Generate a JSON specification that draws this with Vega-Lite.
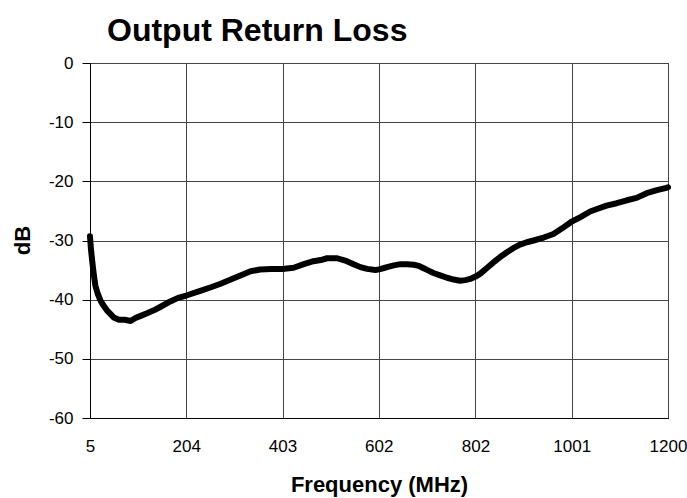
{
  "$schema": "https://vega.github.io/schema/vega-lite/v6.json",
  "autosize": {"type": "none"},
  "width": 578,
  "height": 355,
  "padding": {"left": 90, "top": 63, "right": 19, "bottom": 80},
  "background": "white",
  "config": {
    "font": "Liberation Sans",
    "view": {"stroke": "black", "strokeWidth": 1}
  },
  "title": {
    "text": "Output Return Loss",
    "fontSize": 32,
    "fontWeight": "bold",
    "color": "black",
    "anchor": "start",
    "frame": "group",
    "dx": 17,
    "dy": 40,
    "baseline": "alphabetic",
    "offset": 21
  },
  "data": {
    "values": [
      {"f": 5, "db": -29.3},
      {"f": 7, "db": -31.5},
      {"f": 9.5, "db": -33.4},
      {"f": 12, "db": -35.2},
      {"f": 16, "db": -37.6},
      {"f": 21, "db": -39.0},
      {"f": 27, "db": -40.2},
      {"f": 33, "db": -41.0},
      {"f": 40, "db": -41.8},
      {"f": 47, "db": -42.4},
      {"f": 54, "db": -43.0},
      {"f": 65, "db": -43.4},
      {"f": 77, "db": -43.4},
      {"f": 89, "db": -43.6},
      {"f": 99, "db": -43.1},
      {"f": 111, "db": -42.7},
      {"f": 123, "db": -42.3},
      {"f": 137, "db": -41.8},
      {"f": 151, "db": -41.2},
      {"f": 171, "db": -40.3},
      {"f": 187, "db": -39.7},
      {"f": 204, "db": -39.3},
      {"f": 233, "db": -38.5},
      {"f": 255, "db": -37.9},
      {"f": 275, "db": -37.3},
      {"f": 296, "db": -36.6},
      {"f": 316, "db": -35.9},
      {"f": 337, "db": -35.2},
      {"f": 357, "db": -34.9},
      {"f": 380, "db": -34.8},
      {"f": 403, "db": -34.8},
      {"f": 426, "db": -34.6},
      {"f": 447, "db": -34.0},
      {"f": 467, "db": -33.5},
      {"f": 482, "db": -33.3},
      {"f": 495, "db": -33.0},
      {"f": 516, "db": -33.0},
      {"f": 536, "db": -33.5},
      {"f": 550, "db": -34.0},
      {"f": 564, "db": -34.5},
      {"f": 578, "db": -34.8},
      {"f": 595, "db": -35.0},
      {"f": 607, "db": -34.8},
      {"f": 619, "db": -34.5},
      {"f": 633, "db": -34.2},
      {"f": 647, "db": -34.0},
      {"f": 661, "db": -34.0},
      {"f": 674, "db": -34.1},
      {"f": 685, "db": -34.3},
      {"f": 695, "db": -34.7},
      {"f": 705, "db": -35.1},
      {"f": 715, "db": -35.5},
      {"f": 729, "db": -35.9},
      {"f": 743, "db": -36.3},
      {"f": 757, "db": -36.6},
      {"f": 770, "db": -36.8},
      {"f": 781, "db": -36.7},
      {"f": 791, "db": -36.5},
      {"f": 802, "db": -36.1},
      {"f": 812, "db": -35.6},
      {"f": 825, "db": -34.7},
      {"f": 839, "db": -33.7},
      {"f": 853, "db": -32.8},
      {"f": 867, "db": -32.0},
      {"f": 880, "db": -31.3},
      {"f": 894, "db": -30.7},
      {"f": 908, "db": -30.3},
      {"f": 922, "db": -30.0},
      {"f": 943, "db": -29.5},
      {"f": 963, "db": -28.9},
      {"f": 982, "db": -27.9},
      {"f": 1001, "db": -26.8},
      {"f": 1020, "db": -26.0},
      {"f": 1039, "db": -25.1},
      {"f": 1056, "db": -24.6},
      {"f": 1073, "db": -24.1},
      {"f": 1094, "db": -23.7},
      {"f": 1115, "db": -23.2},
      {"f": 1135, "db": -22.8},
      {"f": 1156, "db": -22.0},
      {"f": 1177, "db": -21.5},
      {"f": 1197, "db": -21.1},
      {"f": 1200, "db": -21.0}
    ]
  },
  "mark": {"type": "line", "color": "black", "strokeWidth": 6, "strokeCap": "round", "strokeJoin": "round"},
  "encoding": {
    "x": {
      "field": "f",
      "type": "quantitative",
      "scale": {"domain": [5, 1200], "nice": false, "zero": false},
      "axis": {
        "values": [5, 204, 403, 602, 802, 1001, 1200],
        "labelExpr": "'' + datum.value",
        "title": "Frequency (MHz)",
        "titleFontSize": 22,
        "titleFontWeight": "bold",
        "titleColor": "black",
        "titleBaseline": "alphabetic",
        "titleY": 73,
        "labelFontSize": 17,
        "labelColor": "black",
        "labelPadding": 20,
        "labelFlush": false,
        "labelOverlap": false,
        "ticks": false,
        "tickSize": 0,
        "domainColor": "black",
        "grid": true,
        "gridColor": "#444444",
        "gridWidth": 1
      }
    },
    "y": {
      "field": "db",
      "type": "quantitative",
      "scale": {"domain": [-60, 0], "nice": false, "zero": false},
      "axis": {
        "values": [-60, -50, -40, -30, -20, -10, 0],
        "labelExpr": "'' + datum.value",
        "title": "dB",
        "titleFontSize": 22,
        "titleFontWeight": "bold",
        "titleColor": "black",
        "titleBaseline": "alphabetic",
        "titleAlign": "center",
        "titleAngle": -90,
        "titleX": -61,
        "titleY": 177,
        "labelFontSize": 17,
        "labelColor": "black",
        "labelPadding": 9,
        "labelFlush": false,
        "labelOverlap": false,
        "tickSize": 8,
        "tickColor": "black",
        "domainColor": "black",
        "grid": true,
        "gridColor": "#444444",
        "gridWidth": 1
      }
    }
  }
}
